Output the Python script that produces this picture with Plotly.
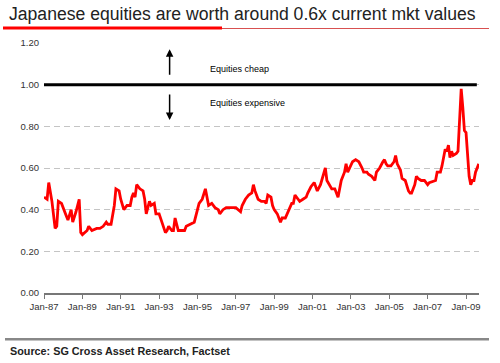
import plotly.graph_objects as go

title_text = "Japanese equities are worth around 0.6x current mkt values"
source_text = "Source: SG Cross Asset Research, Factset"

dates = [
    "1987-01", "1987-03", "1987-04", "1987-06", "1987-08", "1987-09", "1987-10", "1987-12",
    "1988-03", "1988-04", "1988-06", "1988-07", "1988-09", "1988-11", "1988-12",
    "1989-01", "1989-04", "1989-05", "1989-07", "1989-10", "1989-12",
    "1990-02", "1990-04", "1990-05", "1990-07", "1990-09", "1990-10", "1990-12",
    "1991-01", "1991-03", "1991-05", "1991-07", "1991-08", "1991-09", "1991-10", "1991-11",
    "1992-01", "1992-03", "1992-04", "1992-05", "1992-07", "1992-08", "1992-10", "1992-11",
    "1993-01", "1993-03", "1993-05", "1993-06", "1993-07", "1993-09", "1993-10", "1993-11", "1993-12",
    "1994-01", "1994-03", "1994-05", "1994-06", "1994-09", "1994-11",
    "1995-02", "1995-04", "1995-06", "1995-07", "1995-08", "1995-10", "1995-12",
    "1996-02", "1996-03", "1996-05", "1996-07", "1996-11",
    "1997-01", "1997-04", "1997-05", "1997-07", "1997-09", "1997-11", "1997-12",
    "1998-01", "1998-03", "1998-05", "1998-07", "1998-08", "1998-09", "1998-11", "1998-12",
    "1999-01", "1999-03", "1999-05", "1999-06", "1999-08", "1999-09", "1999-11", "1999-12",
    "2000-01", "2000-02", "2000-04", "2000-05", "2000-07", "2000-09", "2000-10", "2000-12",
    "2001-02", "2001-04", "2001-06", "2001-08", "2001-09", "2001-10", "2001-12",
    "2002-01", "2002-03", "2002-05", "2002-06", "2002-07", "2002-09", "2002-10", "2002-11",
    "2003-01", "2003-02", "2003-04", "2003-06", "2003-08", "2003-09", "2003-11", "2003-12",
    "2004-02", "2004-04", "2004-05", "2004-07", "2004-09", "2004-10", "2004-11", "2004-12",
    "2005-02", "2005-04", "2005-05", "2005-06", "2005-08", "2005-09", "2005-11",
    "2006-01", "2006-02", "2006-03", "2006-05", "2006-06", "2006-07", "2006-09", "2006-11",
    "2007-01", "2007-02", "2007-05", "2007-06", "2007-07", "2007-09", "2007-10", "2007-11", "2007-12",
    "2008-01", "2008-02", "2008-03", "2008-04", "2008-05", "2008-07", "2008-08", "2008-09",
    "2008-10", "2008-11", "2008-12",
    "2009-01", "2009-02", "2009-03", "2009-04", "2009-05", "2009-06", "2009-07", "2009-09",
]

values = [
    0.46, 0.45, 0.53, 0.44, 0.31, 0.32, 0.44, 0.43,
    0.37, 0.35, 0.40, 0.34, 0.39, 0.45, 0.29,
    0.28, 0.30, 0.32, 0.30, 0.31, 0.31,
    0.32, 0.34, 0.33, 0.33, 0.42, 0.50, 0.49,
    0.45, 0.40, 0.42, 0.42, 0.46, 0.48, 0.46, 0.52,
    0.50, 0.49, 0.45, 0.38, 0.44, 0.42, 0.43, 0.38,
    0.38, 0.34, 0.29, 0.30, 0.32, 0.30, 0.30, 0.36, 0.33,
    0.30, 0.30, 0.30, 0.32, 0.33, 0.34,
    0.43, 0.45, 0.50, 0.46, 0.42, 0.43, 0.41,
    0.40, 0.38, 0.40, 0.41, 0.41,
    0.41, 0.39, 0.42, 0.45, 0.47, 0.48, 0.52,
    0.49, 0.45, 0.44, 0.44, 0.43, 0.47, 0.46, 0.42,
    0.40, 0.38, 0.34, 0.36, 0.36, 0.38, 0.42, 0.43,
    0.43, 0.47, 0.45, 0.44, 0.45, 0.46, 0.48, 0.51,
    0.53, 0.49, 0.52, 0.57, 0.60, 0.54, 0.51,
    0.50, 0.50, 0.46, 0.50, 0.54, 0.58, 0.62, 0.58,
    0.61, 0.63, 0.64, 0.63, 0.60, 0.58, 0.58, 0.57,
    0.56, 0.54, 0.58, 0.60, 0.63, 0.64, 0.62, 0.61,
    0.61, 0.63, 0.66, 0.62, 0.59, 0.55, 0.54,
    0.49, 0.48, 0.48, 0.52, 0.56, 0.55, 0.54, 0.54,
    0.52, 0.53, 0.54, 0.54, 0.58, 0.58, 0.61, 0.66, 0.69,
    0.68, 0.71, 0.65, 0.68, 0.66, 0.67, 0.68, 0.83,
    0.98, 0.89, 0.78,
    0.77, 0.66, 0.56, 0.52, 0.54, 0.54, 0.58, 0.62,
]

tick_dates = ["1987-01-01", "1989-01-01", "1991-01-01", "1993-01-01", "1995-01-01", "1997-01-01",
              "1999-01-01", "2001-01-01", "2003-01-01", "2005-01-01", "2007-01-01", "2009-01-01"]
tick_labels = ["Jan-87", "Jan-89", "Jan-91", "Jan-93", "Jan-95", "Jan-97",
               "Jan-99", "Jan-01", "Jan-03", "Jan-05", "Jan-07", "Jan-09"]
y_ticks = [0.0, 0.2, 0.4, 0.6, 0.8, 1.0, 1.2]

fair_value = 1.0
label_cheap = "Equities cheap"
label_expensive = "Equities expensive"

FONT = "Liberation Sans, Arial, sans-serif"

fig = go.Figure()
fig.add_trace(go.Scatter(x=dates, y=values, mode="lines",
                         line=dict(color="#ff0000", width=2.8), hoverinfo="skip"))

fig.update_layout(
    width=500, height=363,
    margin=dict(l=44, r=21, t=43, b=70),
    paper_bgcolor="white", plot_bgcolor="white",
    showlegend=False,
    font=dict(family=FONT, color="#333333", size=9.5),
    xaxis=dict(
        type="date", range=["1987-01-01", "2009-09-05"],
        tickvals=tick_dates, ticktext=tick_labels,
        showgrid=False, showline=True, linecolor="#777777", linewidth=1.5,
        ticks="outside", ticklen=4, tickcolor="#777777", tickwidth=1,
        tickfont=dict(size=9.5, color="#333333"), zeroline=False,
    ),
    yaxis=dict(
        range=[0, 1.2], tickvals=y_ticks, tickformat=".2f",
        showgrid=True, gridcolor="#c4c4c4", gridwidth=1, griddash="6px,4px",
        showline=False, zeroline=False, ticks="",
        tickfont=dict(size=9.5, color="#333333"), ticklabelstandoff=4,
    ),
)

# fair value line
fig.add_shape(type="line", xref="paper", yref="y", x0=0, x1=0.995, y0=fair_value, y1=fair_value,
              line=dict(color="black", width=3))

# arrows
fig.add_annotation(x="1993-07-20", y=1.17, ax="1993-07-20", ay=1.04, xref="x", yref="y",
                   axref="x", ayref="y", showarrow=True, arrowhead=2, arrowsize=1, arrowwidth=1.5,
                   arrowcolor="black", text="")
fig.add_annotation(x="1993-07-20", y=0.83, ax="1993-07-20", ay=0.96, xref="x", yref="y",
                   axref="x", ayref="y", showarrow=True, arrowhead=2, arrowsize=1, arrowwidth=1.5,
                   arrowcolor="black", text="")
fig.add_annotation(x="1995-07-23", y=1.075, xref="x", yref="y", text=label_cheap, showarrow=False,
                   xanchor="left", yanchor="middle", font=dict(size=9, color="black", family=FONT))
fig.add_annotation(x="1995-07-23", y=0.911, xref="x", yref="y", text=label_expensive, showarrow=False,
                   xanchor="left", yanchor="middle", font=dict(size=9, color="black", family=FONT))

# title
fig.add_annotation(x=(7 - 44) / 435, y=(293 - 14) / 250, xref="paper", yref="paper", text=title_text,
                   showarrow=False, xanchor="left", yanchor="middle",
                   font=dict(size=17.6, color="#222222", family=FONT))
fig.add_shape(type="line", xref="paper", yref="paper", x0=(3 - 44) / 435, x1=(222 - 44) / 435,
              y0=(293 - 28) / 250, y1=(293 - 28) / 250, line=dict(color="#ff0000", width=3))
fig.add_shape(type="line", xref="paper", yref="paper", x0=(222 - 44) / 435, x1=(489 - 44) / 435,
              y0=(293 - 28.5) / 250, y1=(293 - 28.5) / 250, line=dict(color="#d85050", width=1))

# source
fig.add_shape(type="line", xref="paper", yref="paper", x0=(5 - 44) / 435, x1=(489 - 44) / 435,
              y0=(293 - 339.3) / 250, y1=(293 - 339.3) / 250, line=dict(color="#888888", width=2.5))
fig.add_annotation(x=(8 - 44) / 435, y=(293 - 350.7) / 250, xref="paper", yref="paper",
                   text="<b>" + source_text + "</b>", showarrow=False, xanchor="left", yanchor="middle",
                   font=dict(size=10.8, color="#222222", family=FONT))

fig.write_html("out.html", config={"displayModeBar": False},
               post_script="document.body.style.margin='0';")
